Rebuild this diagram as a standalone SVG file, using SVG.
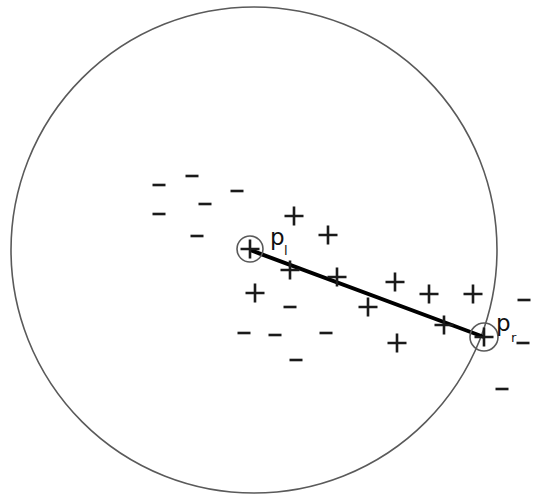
<svg xmlns="http://www.w3.org/2000/svg" width="539" height="497" viewBox="0 0 539 497">
<defs>
<style>
.ring{fill:none;stroke:#5a5a5a;stroke-width:1.6}
.mark{stroke:#1a1a1a;stroke-width:2.6;fill:none}
.lbl{font-family:"DejaVu Sans",sans-serif;fill:#111}
</style>
<path id="plus" class="mark" d="M-9.5,0H9.5M0,-9.5V9.5"/>
<path id="minus" class="mark" d="M-6.5,0H6.5"/>
</defs>
<rect width="539" height="497" fill="#fff"/>
<circle id="boundary" class="ring" cx="254" cy="250" r="243"/>
<g id="connectors">
<line x1="250" y1="250" x2="484" y2="337" stroke="#000" stroke-width="4"/>
</g>
<g id="node-pl">
<circle class="ring" cx="250" cy="249" r="13"/>
<use href="#plus" x="250" y="249"/>
<text class="lbl" x="270" y="245" font-size="23">p</text>
<text class="lbl" x="284" y="255" font-size="13">l</text>
</g>
<g id="node-pr">
<circle class="ring" cx="484" cy="337" r="14"/>
<use href="#plus" x="484" y="337"/>
<text class="lbl" x="496" y="331" font-size="23">p</text>
<text class="lbl" x="511" y="342" font-size="13">r</text>
</g>
<g id="plus-points">
<use href="#plus" x="294" y="216"/>
<use href="#plus" x="328" y="235"/>
<use href="#plus" x="290" y="270"/>
<use href="#plus" x="337" y="277"/>
<use href="#plus" x="255" y="293"/>
<use href="#plus" x="395" y="282"/>
<use href="#plus" x="429" y="294"/>
<use href="#plus" x="473" y="294"/>
<use href="#plus" x="368" y="307"/>
<use href="#plus" x="444" y="325"/>
<use href="#plus" x="397" y="343"/>
</g>
<g id="minus-points">
<use href="#minus" x="159" y="185"/>
<use href="#minus" x="192" y="176"/>
<use href="#minus" x="237" y="191"/>
<use href="#minus" x="205" y="204"/>
<use href="#minus" x="159" y="214"/>
<use href="#minus" x="197" y="236"/>
<use href="#minus" x="290" y="307"/>
<use href="#minus" x="244" y="333"/>
<use href="#minus" x="275" y="335"/>
<use href="#minus" x="326" y="333"/>
<use href="#minus" x="296" y="360"/>
<use href="#minus" x="524" y="300"/>
<use href="#minus" x="523" y="343"/>
<use href="#minus" x="502" y="389"/>
</g>
</svg>
